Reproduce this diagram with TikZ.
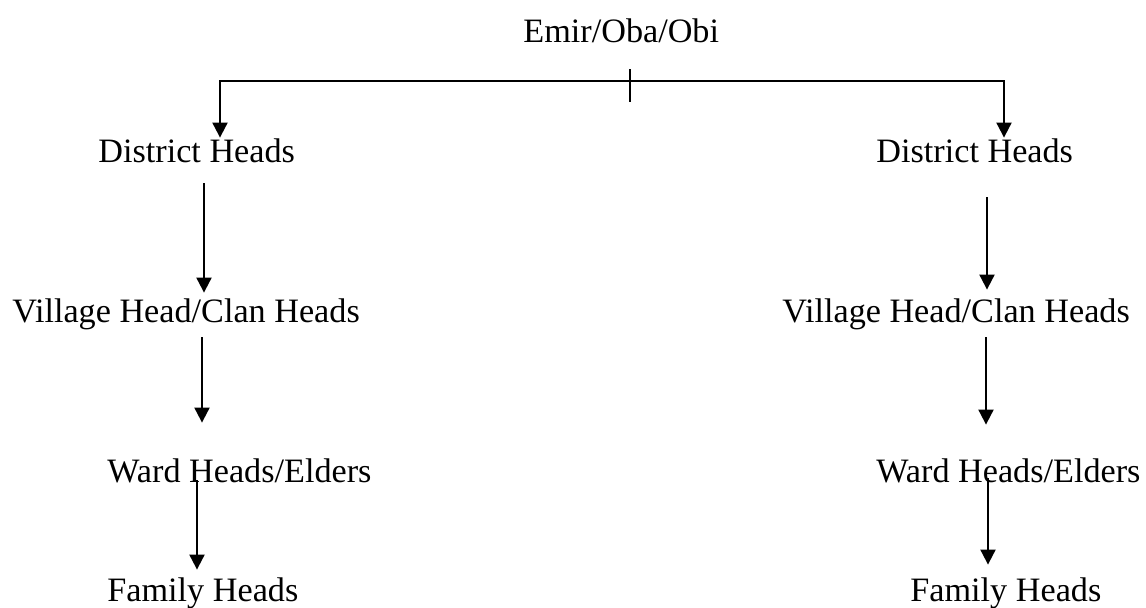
\documentclass[tikz,border=0pt]{standalone}
\usepackage{fontspec}
\setmainfont{Liberation Serif}
\usetikzlibrary{arrows.meta, calc}
\tikzset{
  title/.style = {anchor=base west, inner sep=0pt, text height=11.5pt, text depth=3.5pt, font=\fontsize{17.1}{20}\selectfont},
  line/.style = {draw, -{Triangle[width=7.5pt,length=7.5pt]}, line width=1pt}
}

\begin{document}
\begin{tikzpicture}[x=0.5pt, y=0.5pt]
    \useasboundingbox (0,0) rectangle (1146,608);

    % Top
    \node[title] (emir) at (523,565) {Emir/Oba/Obi};
    \coordinate (bar) at ($(emir.south west)+(107,-31)$);

    % Left branch
    \node[title] (distL) at (98,445) {District Heads};
    \node[title] (villL) at (12,285) {Village Head/Clan Heads};
    \node[title] (wardL) at (107,125) {Ward Heads/Elders};
    \node[title] (famL) at (107,6) {Family Heads};

    % Right branch
    \node[title] (distR) at (876,445) {District Heads};
    \node[title] (villR) at (782,285) {Village Head/Clan Heads};
    \node[title] (wardR) at (876,125) {Ward Heads/Elders};
    \node[title] (famR) at (910,6) {Family Heads};

    % Arrows
    \draw[line width=1pt] ($(bar)+(0,12)$) -- ($(bar)+(0,-21)$);
    \path [line] (bar) -| ($(distL.north west)+(122,2)$);
    \path [line] (bar) -| ($(distR.north west)+(128,2)$);
    \path [line] ($(distL.south west)+(106,-13)$) -- ($(villL.north west)+(192,7)$);
    \path [line] ($(distR.south west)+(111,-27)$) -- ($(villR.north west)+(205,10)$);
    \path [line] ($(villL.south west)+(190,-7)$) -- ($(wardL.north west)+(95,37)$);
    \path [line] ($(villR.south west)+(204,-7)$) -- ($(wardR.north west)+(110,35)$);
    \path [line] ($(wardL.south west)+(90,10)$) -- ($(famL.north west)+(90,9)$);
    \path [line] ($(wardR.south west)+(112,12)$) -- ($(famR.north west)+(78,14)$);

\end{tikzpicture}
\end{document}
